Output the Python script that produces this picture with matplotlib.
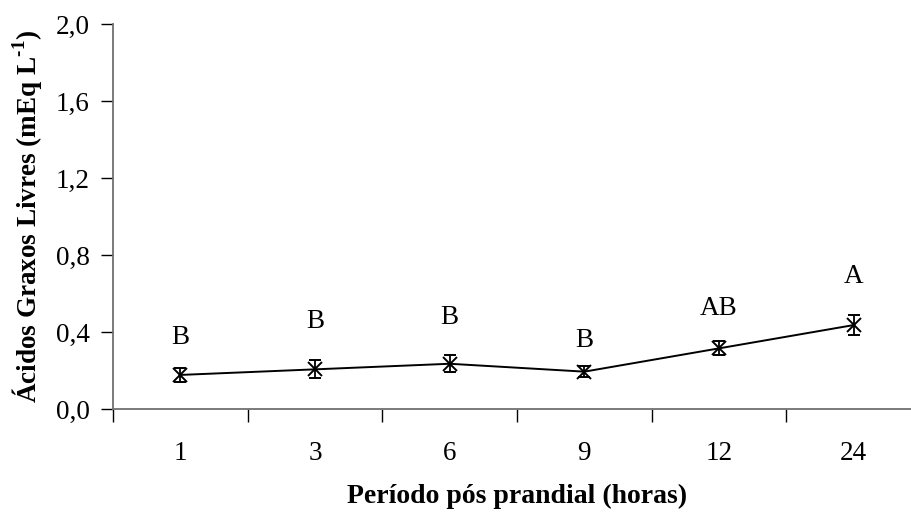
import matplotlib
matplotlib.use("Agg")
import matplotlib.pyplot as plt
import numpy as np

periods = ["1", "3", "6", "9", "12", "24"]
agl = [0.177, 0.206, 0.235, 0.194, 0.315, 0.436]
agl_err = [0.035, 0.047, 0.045, 0.027, 0.037, 0.052]
letters = ["B", "B", "B", "B", "AB", "A"]
letter_y = [0.369, 0.454, 0.473, 0.358, 0.52, 0.69]
yticks = [0.0, 0.4, 0.8, 1.2, 1.6, 2.0]

plt.rcParams['font.family'] = ['Liberation Serif', 'DejaVu Serif']
plt.rcParams['mathtext.fontset'] = 'custom'
plt.rcParams['mathtext.rm'] = 'Liberation Serif:bold'
plt.rcParams['mathtext.bf'] = 'Liberation Serif:bold'

W, H = 912, 512
fig = plt.figure(figsize=(W/100, H/100), dpi=100)
left, right, top, bottom = 113, 921, 24, 409
ax = fig.add_axes([left/W, 1-bottom/H, (right-left)/W, (bottom-top)/H])

x = np.arange(len(periods))
ax.errorbar(x, agl, yerr=agl_err, color='black', lw=1.4, marker='x', ms=10,
            mew=1.4, ecolor='black', elinewidth=1.3, capsize=4.5, capthick=1.3)
for xi, lab, ly in zip(x, letters, letter_y):
    ax.text(xi, ly, lab, ha='center', va='center', fontsize=19.5, color='black')

ax.set_xlim(-0.5, len(periods)-0.5)
ax.set_ylim(0, 2.0)
ax.set_yticks(yticks)
ax.set_yticklabels([f"{v:.1f}".replace('.', ',') for v in yticks], fontsize=19.5)
ax.set_xticks(x)
ax.set_xticklabels(periods, fontsize=19.5)
ax.set_xticks(np.arange(-0.5, len(periods)-0.5, 1), minor=True)
ax.tick_params(axis='x', which='major', length=0, pad=23)
ax.tick_params(axis='x', which='minor', length=9, width=1, color='black', direction='out')
ax.tick_params(axis='y', which='major', length=9, width=1, color='black', direction='out', pad=8)

for s in ['top', 'right']:
    ax.spines[s].set_visible(False)
for s in ['left', 'bottom']:
    ax.spines[s].set_color('#707070')
    ax.spines[s].set_linewidth(1.3)

ax.set_xlabel("Período pós prandial (horas)", fontsize=20, fontweight='bold', labelpad=13)
ax.set_ylabel(r"Ácidos Graxos Livres (mEq L$^{\text{-1}}$)", fontsize=19.5, fontweight='bold', labelpad=8)

fig.savefig("out.png", dpi=100)
